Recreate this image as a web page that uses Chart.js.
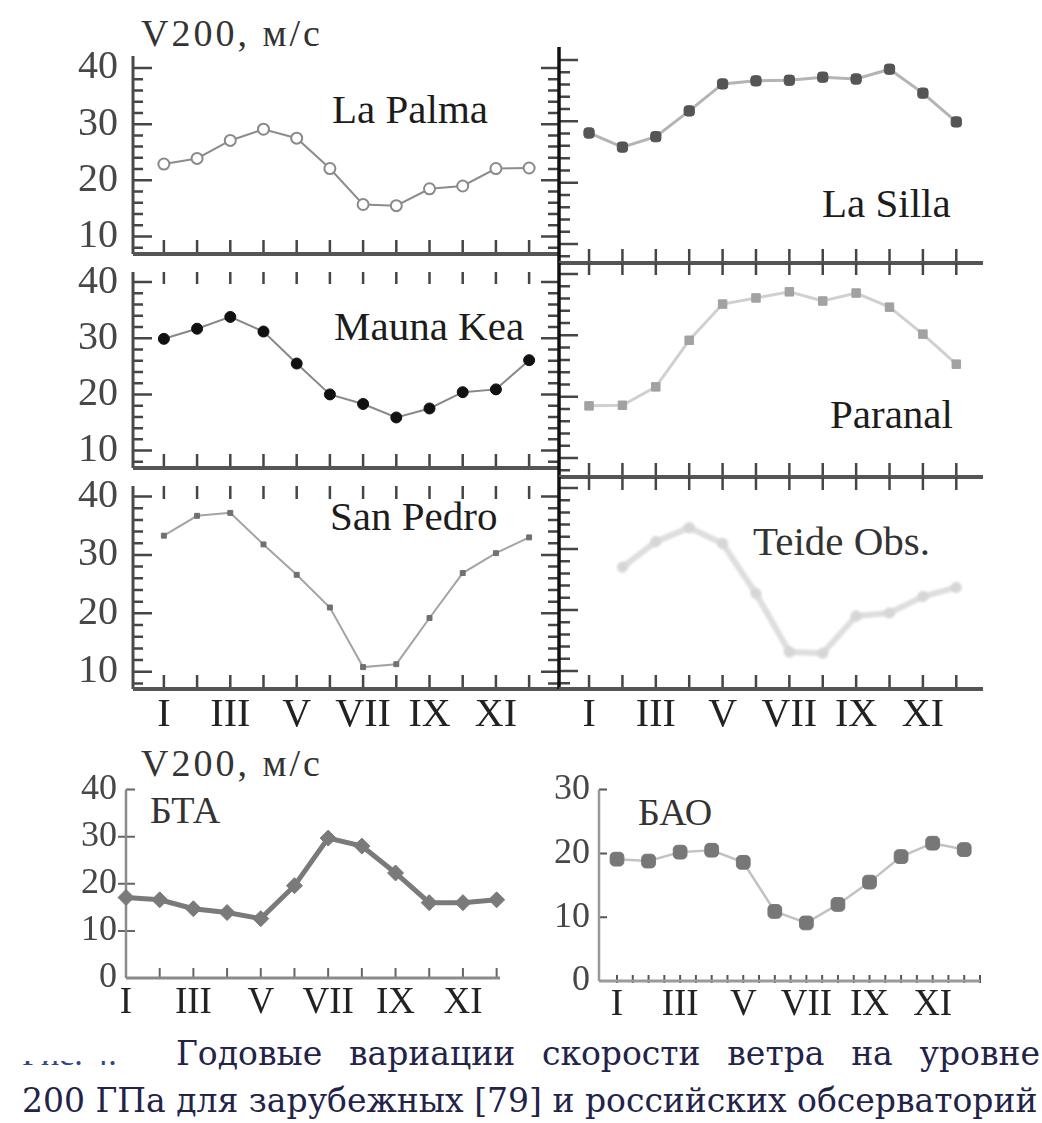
<!DOCTYPE html>
<html lang="ru">
<head>
  <meta charset="UTF-8" />
  <title>V200 – годовые вариации</title>
  <script src="https://cdn.jsdelivr.net/npm/chart.js"></script>
  <style>
    body { margin: 0; background: #fff; width: 1042px; height: 1123px; position: relative; overflow: hidden;
           font-family: "Liberation Serif", "DejaVu Serif", serif; }
    canvas, .lbl, .cap { position: absolute; }
    .lbl { white-space: nowrap; line-height: 1; color: #1c1c1c; font-size: 41px; }
    .unit { font-size: 38px; color: #333; letter-spacing: 3px; }
    .cap { line-height: 1; font-family: "DejaVu Serif", serif; font-size: 33px; color: #23234a;
           text-align: justify; text-align-last: justify; white-space: nowrap; }
    .clip { position: absolute; overflow: hidden; }
  </style>
</head>
<body>
  <div class="lbl unit" style="left:141px; top:14px">V200, м/с</div>
  <div class="lbl" style="left:332px; top:89px">La Palma</div>
  <div class="lbl" style="left:822px; top:183px">La Silla</div>
  <div class="lbl" style="left:334px; top:306px">Mauna Kea</div>
  <div class="lbl" style="left:830px; top:394px">Paranal</div>
  <div class="lbl" style="left:330px; top:496px">San Pedro</div>
  <div class="lbl" style="left:753px; top:521px; color:#333">Teide Obs.</div>

  <div class="lbl unit" style="left:141px; top:744px">V200, м/с</div>
  <div class="lbl" style="left:150px; top:791px; font-size:38px; color:#333">БТА</div>
  <div class="lbl" style="left:638px; top:793px; font-size:38px; color:#333">БАО</div>

  <!-- обрезанная подпись «Рис. 4.» из скана -->
  <div class="clip" style="left:22px; top:1061px; width:125px; height:5px">
    <div class="lbl" style="position:relative; top:-24px; font-size:34px; color:#2d4690">Рис. 4.</div>
  </div>
  <div class="cap" style="left:176px; top:1037px; width:864px">Годовые вариации скорости ветра на уровне</div>
  <div class="cap" style="left:22px; top:1084px; width:1008px">200 ГПа для зарубежных [79] и российских обсерваторий</div>

  <script>
    // месяцы и подписи
    const months = [1, 2, 3, 4, 5, 6, 7, 8, 9, 10, 11, 12];
    const monthLabels = ["I", "II", "III", "IV", "V", "VI", "VII", "VIII", "IX", "X", "XI", "XII"];
    const halfMonths = [1, 1.5, 2, 2.5, 3, 3.5, 4, 4.5, 5, 5.5, 6, 6.5, 7, 7.5, 8, 8.5, 9, 9.5, 10, 10.5, 11, 11.5, 12, 12.5];

    // деления оси Y
    const yTicksTop = [10, 20, 30, 40];
    const yMinorTop = [8, 12, 14, 16, 18, 22, 24, 26, 28, 32, 34, 36, 38];
    const yTicksBTA = [0, 10, 20, 30, 40];
    const yTicksBAO = [0, 10, 20, 30];

    // V200, м/с по месяцам
    const laPalma  = [22.9, 23.9, 27.1, 29.1, 27.5, 22.1, 15.7, 15.5, 18.5, 19.0, 22.1, 22.2];
    const laSilla  = [28.1, 25.8, 27.5, 31.7, 36.1, 36.6, 36.7, 37.2, 36.9, 38.5, 34.6, 29.9];
    const maunaKea = [29.9, 31.7, 33.8, 31.2, 25.5, 20.0, 18.3, 15.9, 17.5, 20.4, 20.9, 26.1];
    const paranal  = [18.5, 18.6, 21.6, 29.2, 35.1, 36.1, 37.1, 35.6, 36.9, 34.6, 30.2, 25.3];
    const sanPedro = [33.3, 36.7, 37.2, 31.8, 26.6, 21.0, 10.8, 11.3, 19.2, 26.9, 30.3, 33.0];
    const teide    = [null, 27.0, 31.2, 33.5, 30.9, 22.7, 13.1, 12.9, 19.0, 19.5, 22.2, 23.7];
    const bta      = [17.1, 16.6, 14.7, 13.9, 12.6, 19.6, 29.7, 28.0, 22.3, 16.0, 16.0, 16.6];
    const bao      = [19.1, 18.8, 20.2, 20.5, 18.6, 10.9, 9.1, 12.0, 15.5, 19.5, 21.6, 20.6];

    Chart.defaults.font.family = '"Liberation Serif", serif';

    // рамка, оси и засечки внутрь
    const frame = {
      id: "frame",
      beforeDatasetsDraw(chart, args, o) {
        const { ctx, chartArea: a, scales: { x, y } } = chart;
        ctx.save();
        ctx.lineCap = "butt";
        ctx.strokeStyle = o.tickColor;
        ctx.lineWidth = o.tickWidth;
        ctx.beginPath();
        for (const v of o.xTicks) {
          const px = x.getPixelForValue(v);
          ctx.moveTo(px, a.bottom + o.bottomTick[0]);
          ctx.lineTo(px, a.bottom - o.bottomTick[1]);
          if (o.topTick) { ctx.moveTo(px, a.top); ctx.lineTo(px, a.top + o.topTick); }
        }
        for (const m of o.yMarks) {
          const edge = m.at === "right" ? a.right : a.left;
          for (const v of m.values) {
            const py = y.getPixelForValue(v);
            ctx.moveTo(edge + m.span[0], py);
            ctx.lineTo(edge + m.span[1], py);
          }
        }
        ctx.stroke();
        ctx.strokeStyle = o.leftAxis.color;
        ctx.lineWidth = o.leftAxis.width;
        ctx.beginPath(); ctx.moveTo(a.left, a.top); ctx.lineTo(a.left, a.bottom); ctx.stroke();
        ctx.strokeStyle = o.bottomAxis.color;
        ctx.lineWidth = o.bottomAxis.width;
        ctx.beginPath(); ctx.moveTo(a.left, a.bottom); ctx.lineTo(a.right, a.bottom); ctx.stroke();
        ctx.restore();
      }
    };

    // размытая линия Teide
    const soft = {
      id: "soft",
      beforeDatasetDraw(chart) { chart.ctx.save(); chart.ctx.filter = "blur(1.3px)"; },
      afterDatasetDraw(chart) { chart.ctx.restore(); }
    };

    function panel(box, values, look, o) {
      const pad = 30;
      const yw = o.yLabels ? o.yWidth : 0;
      const xh = o.xLabels ? o.xHeight : 0;
      const c = document.createElement("canvas");
      c.width = box.width + 2 * pad + yw;
      c.height = box.height + 2 * pad + xh;
      c.style.left = (box.left - pad - yw) + "px";
      c.style.top = (box.top - pad) + "px";
      document.body.appendChild(c);

      return new Chart(c, {
        type: "line",
        data: {
          datasets: [{
            data: months.map((m, i) => ({ x: m, y: values[i] })),
            borderColor: look.line,
            borderWidth: look.lineWidth,
            pointStyle: look.style,
            pointRadius: look.radius,
            pointBackgroundColor: look.fill,
            pointBorderColor: look.edge,
            pointBorderWidth: look.edgeWidth,
            tension: 0,
            clip: false
          }]
        },
        options: {
          responsive: false,
          animation: false,
          layout: { padding: pad },
          plugins: { legend: { display: false }, tooltip: { enabled: false }, frame: o.frame },
          scales: {
            x: {
              type: "linear", min: o.xMin, max: o.xMax, display: !!o.xLabels,
              grid: { display: false, drawTicks: false }, border: { display: false },
              afterBuildTicks: s => { s.ticks = months.map(v => ({ value: v })); },
              afterFit: s => { s.height = xh; },
              ticks: { callback: v => (v % 2 ? monthLabels[v - 1] : ""), autoSkip: false, maxRotation: 0,
                       padding: o.xPad, color: "#222", font: { size: o.xFont || 40 } }
            },
            y: {
              type: "linear", min: o.yMin, max: o.yMax, display: !!o.yLabels,
              grid: { display: false, drawTicks: false }, border: { display: false },
              afterBuildTicks: s => { s.ticks = o.yTicks.map(v => ({ value: v })); },
              afterFit: s => { s.width = yw; },
              ticks: { padding: o.yPad, color: "#474747", font: { size: o.yFont || 40 } }
            }
          }
        },
        plugins: look.soft ? [frame, soft] : [frame]
      });
    }

    // верхняя сетка 3×2
    const leftCol = { left: 133, width: 426 };
    const rightCol = { left: 559, width: 424 };
    const rows = [
      { top: 47, height: 216, yMin: 6.9, yMax: 42.12, topTick: 0 },
      { top: 263, height: 214, yMin: 6.9, yMax: 41.8, topTick: 12 },
      { top: 477, height: 212, yMin: 7.05, yMax: 41.8, topTick: 13 }
    ];

    function gridPanel(row, isLeft, values, look) {
      const r = rows[row];
      const col = isLeft ? leftCol : rightCol;
      const yMarks = isLeft ? [
        { at: "left", values: yTicksTop, span: [0, 19] },
        { at: "left", values: yMinorTop, span: [0, 10] },
        { at: "right", values: yTicksTop, span: [-18, 0] },
        { at: "right", values: yMinorTop, span: [-11, 0] }
      ] : [
        { at: "left", values: yTicksTop, span: [0, 19] },
        { at: "left", values: yMinorTop, span: [0, 11] }
      ];
      return panel({ left: col.left, top: r.top, width: col.width, height: r.height }, values, look, {
        xMin: isLeft ? 0.07 : 0.1, xMax: isLeft ? 12.9 : 12.8,
        yMin: r.yMin, yMax: r.yMax, yTicks: yTicksTop,
        yLabels: isLeft, yWidth: 80, yPad: 15,
        xLabels: row === 2, xHeight: 50, xPad: 2,
        frame: {
          xTicks: months, bottomTick: [0, 14], topTick: r.topTick,
          tickColor: "#464646", tickWidth: 2.5, yMarks,
          leftAxis: isLeft ? { color: "#4a4a4a", width: 3 } : { color: "#111", width: 3.5 },
          bottomAxis: { color: "#555", width: 4 }
        }
      });
    }

    gridPanel(0, true, laPalma, { line: "#8c8c8c", lineWidth: 2, style: "circle", radius: 5.5, fill: "#fff", edge: "#8a8a8a", edgeWidth: 2 });
    gridPanel(0, false, laSilla, { line: "#b4b4b4", lineWidth: 3, style: "rectRounded", radius: 6, fill: "#555", edge: "#555", edgeWidth: 1 });
    gridPanel(1, true, maunaKea, { line: "#888", lineWidth: 2, style: "circle", radius: 5.5, fill: "#111", edge: "#111", edgeWidth: 1 });
    gridPanel(1, false, paranal, { line: "#d0d0d0", lineWidth: 3, style: "rect", radius: 6, fill: "#a2a2a2", edge: "#a2a2a2", edgeWidth: 1 });
    gridPanel(2, true, sanPedro, { line: "#a4a4a4", lineWidth: 2, style: "rect", radius: 3.5, fill: "#707070", edge: "#707070", edgeWidth: 1 });
    gridPanel(2, false, teide, { line: "#dedede", lineWidth: 6, style: "circle", radius: 5, fill: "#d6d6d6", edge: "#d6d6d6", edgeWidth: 1, soft: true });

    // нижние панели: БТА и БАО
    panel({ left: 126, top: 789, width: 374, height: 189 }, bta,
      { line: "#7a7a7a", lineWidth: 5, style: "rectRot", radius: 8, fill: "#7a7a7a", edge: "#7a7a7a", edgeWidth: 1 },
      {
        xMin: 1, xMax: 12.1, yMin: 0, yMax: 40, yTicks: yTicksBTA,
        yLabels: true, yWidth: 60, yPad: 9, yFont: 36,
        xLabels: true, xHeight: 45, xPad: 3, xFont: 37,
        frame: {
          xTicks: months.slice(1), bottomTick: [0, 10], topTick: 0,
          tickColor: "#666", tickWidth: 2,
          yMarks: [{ at: "left", values: [10, 20, 30], span: [-8, 9] }, { at: "left", values: [40], span: [0, 9] }],
          leftAxis: { color: "#8a8a8a", width: 2.5 },
          bottomAxis: { color: "#8a8a8a", width: 3 }
        }
      });

    panel({ left: 599, top: 789, width: 381, height: 192 }, bao,
      { line: "#c2c2c2", lineWidth: 2.5, style: "rectRounded", radius: 8, fill: "#777", edge: "#777", edgeWidth: 1 },
      {
        xMin: 0.43, xMax: 12.5, yMin: 0, yMax: 30, yTicks: yTicksBAO,
        yLabels: true, yWidth: 60, yPad: 9, yFont: 36,
        xLabels: true, xHeight: 45, xPad: 2, xFont: 37,
        frame: {
          xTicks: halfMonths, bottomTick: [2, 6], topTick: 0,
          tickColor: "#555", tickWidth: 2,
          yMarks: [{ at: "left", values: [10, 20, 30], span: [0, 8] }],
          leftAxis: { color: "#999", width: 2.5 },
          bottomAxis: { color: "#9a9a9a", width: 3 }
        }
      });
  </script>
</body>
</html>
